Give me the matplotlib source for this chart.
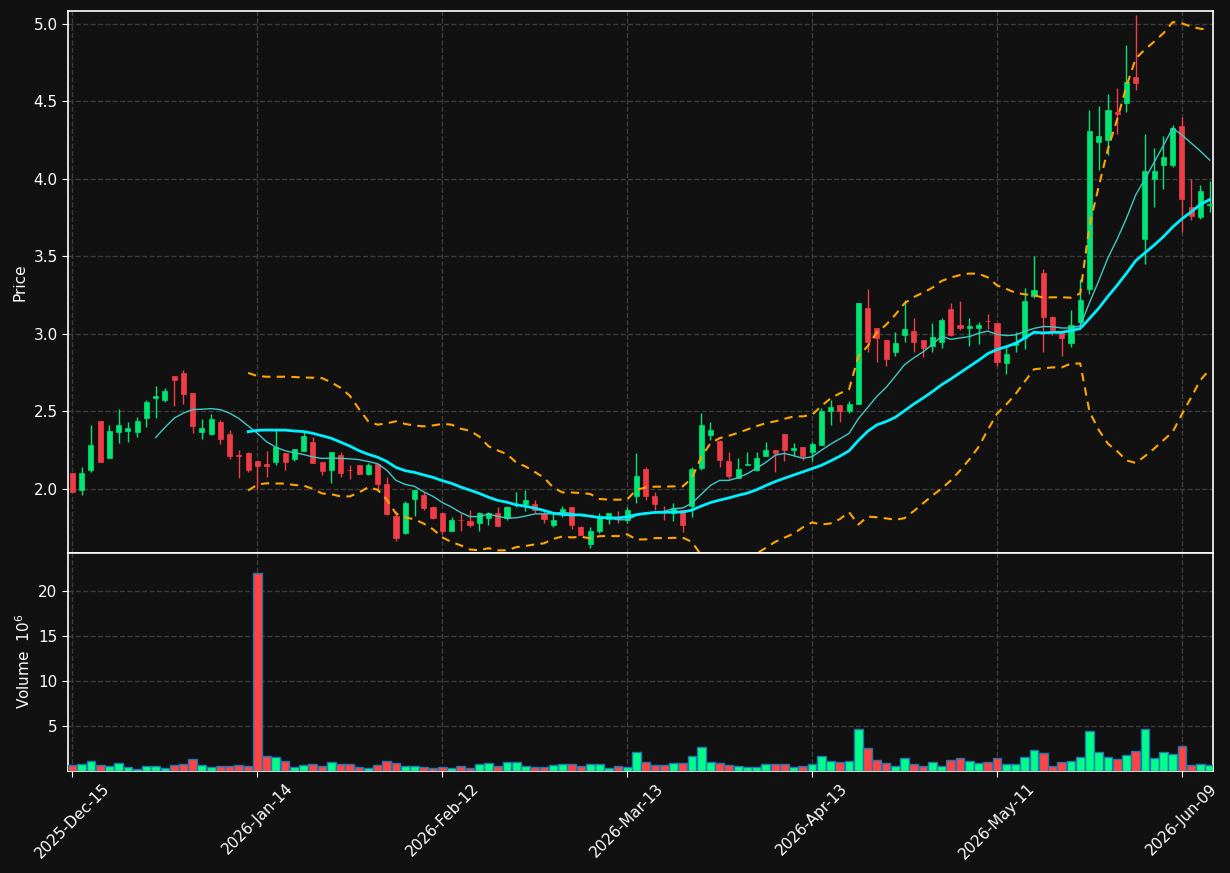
import numpy as np
import pandas as pd
import matplotlib
matplotlib.use("Agg")
import matplotlib.pyplot as plt

# ---------------- data ----------------
opens = [2.103, 1.996, 2.120, 2.438, 2.197, 2.370, 2.376, 2.370, 2.459, 2.588,
         2.573, 2.727, 2.746, 2.618, 2.370, 2.355, 2.432, 2.355, 2.220, 2.233,
         2.180, 2.158, 2.175, 2.231, 2.192, 2.244, 2.301, 2.173, 2.124, 2.218,
         2.124, 2.152, 2.098, 2.160, 2.032, 1.827, 1.718, 1.938, 1.959, 1.887,
         1.844, 1.726, 1.801, 1.795, 1.778, 1.816, 1.846, 1.810, 1.895, 1.904,
         1.904, 1.838, 1.769, 1.844, 1.885, 1.756, 1.643, 1.726, 1.805, 1.816,
         1.797, 1.953, 2.131, 1.957, 1.855, 1.845, 1.867, 1.888, 2.135, 2.350,
         2.307, 2.182, 2.071, 2.152, 2.124, 2.215, 2.253, 2.356, 2.249, 2.273,
         2.238, 2.283, 2.506, 2.545, 2.506, 2.547, 3.170, 3.039, 2.964, 2.882,
         2.991, 3.021, 2.964, 2.921, 2.946, 3.161, 3.060, 3.036, 3.036, 3.086,
         3.070, 2.816, 2.929, 2.972, 3.246, 3.392, 3.108, 3.015, 2.944, 3.080,
         3.289, 4.237, 4.250, 4.435, 4.491, 4.657, 3.612, 4.000, 4.088, 4.088,
         4.345, 3.819, 3.754, 3.834]
highs = [2.103, 2.141, 2.410, 2.438, 2.410, 2.519, 2.429, 2.462, 2.577, 2.662,
         2.652, 2.727, 2.765, 2.618, 2.449, 2.481, 2.442, 2.378, 2.252, 2.241,
         2.182, 2.244, 2.378, 2.231, 2.261, 2.368, 2.335, 2.173, 2.237, 2.237,
         2.152, 2.152, 2.169, 2.160, 2.079, 1.861, 1.921, 1.994, 1.979, 1.891,
         1.844, 1.818, 1.848, 1.865, 1.853, 1.853, 1.882, 1.891, 1.979, 1.994,
         1.929, 1.865, 1.844, 1.891, 1.885, 1.763, 1.756, 1.848, 1.846, 1.855,
         1.882, 2.230, 2.142, 1.979, 1.888, 1.910, 1.867, 2.142, 2.489, 2.433,
         2.318, 2.238, 2.197, 2.238, 2.238, 2.303, 2.253, 2.356, 2.296, 2.273,
         2.305, 2.524, 2.577, 2.545, 2.567, 3.202, 3.290, 3.039, 2.964, 3.011,
         3.217, 3.103, 2.964, 3.071, 3.103, 3.200, 3.212, 3.103, 3.075, 3.131,
         3.071, 2.917, 3.015, 3.295, 3.500, 3.418, 3.116, 3.015, 3.155, 3.353,
         4.448, 4.470, 4.549, 4.588, 4.862, 5.056, 4.291, 4.200, 4.280, 4.351,
         4.401, 4.000, 3.963, 3.985]
lows = [1.979, 1.959, 2.107, 2.171, 2.197, 2.299, 2.306, 2.338, 2.397, 2.459,
        2.558, 2.538, 2.547, 2.359, 2.325, 2.348, 2.288, 2.192, 2.070, 2.107,
        2.000, 2.079, 2.154, 2.122, 2.179, 2.244, 2.165, 2.088, 2.036, 2.079,
        2.062, 2.098, 2.088, 1.994, 1.829, 1.664, 1.709, 1.823, 1.865, 1.805,
        1.712, 1.726, 1.728, 1.754, 1.726, 1.765, 1.758, 1.801, 1.882, 1.861,
        1.844, 1.780, 1.754, 1.818, 1.741, 1.703, 1.620, 1.716, 1.776, 1.780,
        1.780, 1.910, 1.931, 1.863, 1.798, 1.792, 1.723, 1.820, 2.124, 2.318,
        2.142, 2.064, 2.071, 2.152, 2.114, 2.215, 2.107, 2.178, 2.215, 2.185,
        2.180, 2.283, 2.414, 2.431, 2.491, 2.547, 2.882, 2.820, 2.796, 2.856,
        2.948, 2.882, 2.852, 2.882, 2.910, 2.985, 3.028, 2.921, 2.936, 3.032,
        2.796, 2.743, 2.886, 2.901, 3.231, 2.886, 2.994, 2.858, 2.914, 3.058,
        3.259, 4.060, 4.157, 4.293, 4.431, 4.577, 3.453, 3.819, 3.935, 4.078,
        3.655, 3.737, 3.741, 3.784]
closes = [1.979, 2.103, 2.284, 2.177, 2.374, 2.412, 2.393, 2.438, 2.560, 2.598,
          2.630, 2.701, 2.613, 2.408, 2.393, 2.451, 2.325, 2.214, 2.214, 2.124,
          2.150, 2.150, 2.271, 2.175, 2.261, 2.340, 2.169, 2.117, 2.237, 2.105,
          2.120, 2.098, 2.152, 2.034, 1.840, 1.682, 1.908, 1.994, 1.880, 1.816,
          1.726, 1.801, 1.797, 1.769, 1.846, 1.846, 1.758, 1.882, 1.900, 1.929,
          1.863, 1.805, 1.801, 1.872, 1.769, 1.703, 1.731, 1.818, 1.846, 1.805,
          1.865, 2.085, 1.953, 1.903, 1.850, 1.876, 1.770, 2.131, 2.414, 2.382,
          2.189, 2.086, 2.131, 2.161, 2.200, 2.253, 2.232, 2.249, 2.264, 2.215,
          2.288, 2.504, 2.526, 2.506, 2.551, 3.202, 2.946, 2.972, 2.839, 2.942,
          3.032, 2.946, 2.908, 2.981, 3.092, 2.996, 3.036, 3.054, 3.060, 3.082,
          2.817, 2.871, 2.950, 3.213, 3.284, 3.112, 3.026, 2.972, 3.058, 3.220,
          4.312, 4.280, 4.442, 4.418, 4.625, 4.621, 4.054, 4.054, 4.144, 4.330,
          3.871, 3.759, 3.922, 3.840]
volumes_m = [0.63, 0.78, 1.11, 0.67, 0.56, 0.89, 0.44, 0.22, 0.56, 0.56,
             0.33, 0.67, 0.78, 1.33, 0.67, 0.44, 0.56, 0.56, 0.67, 0.56,
             22.0, 1.67, 1.56, 1.11, 0.44, 0.67, 0.78, 0.56, 1.00, 0.78,
             0.78, 0.44, 0.33, 0.67, 1.11, 0.89, 0.56, 0.56, 0.44, 0.33,
             0.44, 0.33, 0.56, 0.33, 0.78, 0.89, 0.56, 1.00, 1.00, 0.56,
             0.44, 0.44, 0.67, 0.78, 0.78, 0.56, 0.78, 0.78, 0.33, 0.56,
             0.44, 2.11, 1.00, 0.67, 0.67, 0.89, 0.89, 1.67, 2.67, 1.00,
             0.89, 0.67, 0.56, 0.44, 0.44, 0.78, 0.78, 0.78, 0.44, 0.56,
             0.78, 1.67, 1.11, 1.00, 1.11, 4.70, 2.56, 1.22, 0.89, 0.56,
             1.44, 0.78, 0.56, 1.00, 0.56, 1.22, 1.44, 1.11, 0.89, 1.00,
             1.44, 0.78, 0.78, 1.56, 2.33, 2.00, 0.56, 1.00, 1.11, 1.56,
             4.44, 2.11, 1.56, 1.33, 1.78, 2.22, 4.67, 1.44, 2.11, 1.89,
             2.78, 0.67, 0.78, 0.67]

start_date = "2025-12-15"
market_holidays = ["2025-12-25", "2026-01-01", "2026-01-19", "2026-02-16",
                   "2026-04-03", "2026-05-25", "2026-06-19"]
mav_short = 10
mav_long = 20
bb_mult = 2.0
tick_every = 20

# ---------------- derived ----------------
n = len(closes)
dates = pd.bdate_range(start_date, periods=n, freq="C", holidays=market_holidays)
df = pd.DataFrame({"Open": opens, "High": highs, "Low": lows, "Close": closes,
                   "Volume": np.array(volumes_m) * 1e6}, index=dates)
x = np.arange(n)
sma_s = df["Close"].rolling(mav_short).mean()
sma_l = df["Close"].rolling(mav_long).mean()
std_l = df["Close"].rolling(mav_long).std(ddof=0)
bb_up = sma_l + bb_mult * std_l
bb_lo = sma_l - bb_mult * std_l

# ---------------- style ----------------
BG = "#111111"
UP = "#00e676"
DN = "#f03c46"
VUP = "#00ff88"
VDN = "#ff4444"
GRID = "#3c3c3c"
plt.rcParams["font.family"] = ["DejaVu Sans"]

fig = plt.figure(figsize=(12.3, 8.73), dpi=100, facecolor=BG)
left, right = 68 / 1230, 1213 / 1230
top_px, mid_px, bot_px = 10.5, 553, 770.5
H = 873
ax = fig.add_axes([left, 1 - mid_px / H, right - left, (mid_px - top_px) / H])
axv = fig.add_axes([left, 1 - bot_px / H, right - left, (bot_px - mid_px) / H], sharex=ax)

for a in (ax, axv):
    a.set_facecolor(BG)
    for s in a.spines.values():
        s.set_color("white")
        s.set_linewidth(1.2)
    a.grid(True, color=GRID, linestyle="--", linewidth=1.0)
    a.set_axisbelow(True)
    a.tick_params(colors="white", labelsize=11, length=4)

up = df["Close"] >= df["Open"]
ccol = np.where(up, UP, DN)
vcol = np.where(up, VUP, VDN)

# wicks
ax.vlines(x, df["Low"], df["High"], colors=ccol, linewidth=1.0, zorder=3)
# bodies
body_h = (df["Close"] - df["Open"]).values
body_h = np.where(np.abs(body_h) < 0.004, np.sign(body_h + 1e-9) * 0.004, body_h)
ax.bar(x, body_h, bottom=df["Open"].values, width=0.55, color=ccol,
       edgecolor=ccol, linewidth=0.5, zorder=4)

# moving averages and bands
ax.plot(x, sma_s, color="#3ec9c4", linewidth=1.0, zorder=5)
ax.plot(x, sma_l, color="#00f0ff", linewidth=2.0, zorder=5)
ax.plot(x, bb_up, color="#ffa500", linewidth=1.5, linestyle=(0, (4, 3)), zorder=5)
ax.plot(x, bb_lo, color="#ffa500", linewidth=1.5, linestyle=(0, (4, 3)), zorder=5)

ax.set_ylim(1.587, 5.087)
ax.set_yticks([2.0, 2.5, 3.0, 3.5, 4.0, 4.5, 5.0])
ax.set_yticklabels(["2.0", "2.5", "3.0", "3.5", "4.0", "4.5", "5.0"])
ax.set_ylabel("Price", color="white", fontsize=11)
ax.tick_params(axis="x", labelbottom=False, length=0)

# volume
axv.bar(x, df["Volume"] / 1e6, width=0.95, color=vcol, edgecolor="#1f77b4",
        linewidth=1.0, zorder=3)
vmin = min(volumes_m)
axv.set_ylim(0.3 * vmin, 1.1 * max(volumes_m))
axv.set_yticks([5, 10, 15, 20])
axv.set_ylabel("Volume  $10^6$", color="white", fontsize=11)

ticks = list(range(0, n, tick_every))
axv.set_xticks(ticks)
axv.set_xticklabels([dates[i].strftime("%Y-%b-%d") for i in ticks],
                    rotation=45, ha="center")
axv.set_xlim(-0.48, n - 1 + 0.36)

fig.savefig("out.png", dpi=100, facecolor=BG)
